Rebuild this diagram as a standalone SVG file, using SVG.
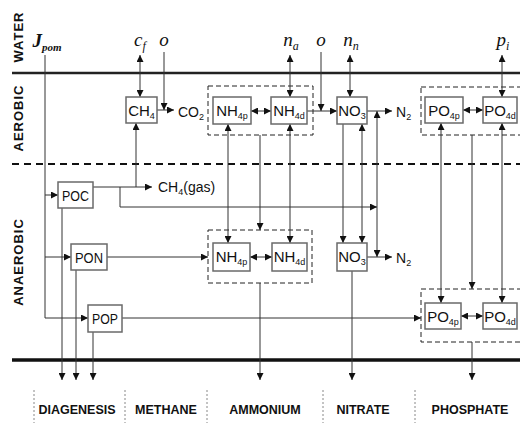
<svg xmlns="http://www.w3.org/2000/svg" width="520" height="423" viewBox="0 0 520 423">
<style>
.box{fill:#fff;stroke:#6a6a6a;stroke-width:1.5}
.dash{fill:none;stroke:#222;stroke-width:1;stroke-dasharray:5 3}
.c{fill:none;stroke:#333;stroke-width:1}
.lbl{font-family:"Liberation Sans Narrow","Liberation Sans",Arial,sans-serif;font-size:15px;fill:#111;text-anchor:middle}
.sub{font-size:9px}
.ft{font-family:"Liberation Sans Narrow","Liberation Sans",Arial,sans-serif;font-size:14px;fill:#111}
.math{font-family:"Liberation Serif","Times New Roman",serif;font-style:italic;font-size:19px;fill:#111;text-anchor:middle}
.side{font-family:"Liberation Sans",Arial,sans-serif;font-weight:bold;font-size:13px;fill:#111;text-anchor:middle;letter-spacing:1px}
.bot{font-family:"Liberation Sans Narrow","Liberation Sans",Arial,sans-serif;font-weight:bold;font-size:12.5px;fill:#111;text-anchor:middle}
.sep{stroke:#888;stroke-width:1;stroke-dasharray:2 2}
</style>
<defs>
<marker id="a" viewBox="0 0 8 8" refX="8" refY="4" markerWidth="7" markerHeight="7" markerUnits="userSpaceOnUse" orient="auto-start-reverse">
<path d="M0,0 L8,4 L0,8 z" fill="#111"/>
</marker>
</defs>

<g id="layers">
<line x1="12" y1="73" x2="520" y2="73" stroke="#222" stroke-width="2.5"/>
<line x1="12" y1="164" x2="520" y2="164" stroke="#111" stroke-width="2" stroke-dasharray="7 5"/>
<line x1="12" y1="360" x2="520" y2="360" stroke="#111" stroke-width="3.5"/>
<line class="sep" x1="34" y1="390" x2="34" y2="423"/>
<line class="sep" x1="125" y1="390" x2="125" y2="423"/>
<line class="sep" x1="207" y1="390" x2="207" y2="423"/>
<line class="sep" x1="323" y1="390" x2="323" y2="423"/>
<line class="sep" x1="415" y1="390" x2="415" y2="423"/>
</g>

<g id="side-labels">
<text class="side" transform="translate(23,37) rotate(-90)">WATER</text>
<text class="side" transform="translate(23,118) rotate(-90)">AEROBIC</text>
<text class="side" transform="translate(23,262) rotate(-90)">ANAEROBIC</text>
</g>

<g id="bottom-labels">
<text class="bot" x="77" y="414">DIAGENESIS</text>
<text class="bot" x="166" y="414">METHANE</text>
<text class="bot" x="265" y="414">AMMONIUM</text>
<text class="bot" x="363" y="414">NITRATE</text>
<text class="bot" x="470" y="414">PHOSPHATE</text>
</g>

<g id="inputs">
<text class="math" x="47" y="47" style="font-weight:bold">J<tspan font-size="11" dy="4">pom</tspan></text>
<text class="math" x="140" y="46">c<tspan font-size="12" dy="4">f</tspan></text>
<text class="math" x="164" y="46">o</text>
<text class="math" x="291" y="46">n<tspan font-size="12" dy="4">a</tspan></text>
<text class="math" x="321" y="46">o</text>
<text class="math" x="351" y="46">n<tspan font-size="12" dy="4">n</tspan></text>
<text class="math" x="503" y="46">p<tspan font-size="12" dy="4">i</tspan></text>
</g>

<g id="groups">
<rect class="dash" x="208" y="86" width="105" height="49"/>
<rect class="dash" x="208" y="230" width="104" height="53"/>
<rect class="dash" x="421" y="87" width="103" height="48"/>
<rect class="dash" x="421" y="289" width="103" height="53"/>
</g>

<g id="connectors">
<path class="c" d="M45,55 V318 H88" marker-end="url(#a)"/>
<path class="c" d="M45,195 H58" marker-end="url(#a)"/>
<path class="c" d="M45,257 H71" marker-end="url(#a)"/>
<path class="c" d="M62,208 V380" marker-end="url(#a)"/>
<path class="c" d="M76,270 V380" marker-end="url(#a)"/>
<path class="c" d="M93,332 V380" marker-end="url(#a)"/>
<path class="c" d="M93,187 H152" marker-end="url(#a)"/>
<path class="c" d="M136,187 V123" marker-end="url(#a)"/>
<path class="c" d="M120,187 V207 H377" marker-end="url(#a)"/>
<path class="c" d="M377,111 V257" marker-start="url(#a)" marker-end="url(#a)"/>
<path class="c" d="M157,110 H174" marker-end="url(#a)"/>
<path class="c" d="M164,52 V110" marker-end="url(#a)"/>
<path class="c" d="M140,55 V97" marker-start="url(#a)" marker-end="url(#a)"/>
<path class="c" d="M251,111 H271" marker-start="url(#a)" marker-end="url(#a)"/>
<path class="c" d="M290,55 V97" marker-start="url(#a)" marker-end="url(#a)"/>
<path class="c" d="M307,111 H337" marker-end="url(#a)"/>
<path class="c" d="M321,52 V111" marker-end="url(#a)"/>
<path class="c" d="M350,55 V97" marker-start="url(#a)" marker-end="url(#a)"/>
<path class="c" d="M367,111 H392" marker-end="url(#a)"/>
<path class="c" d="M463,110 H483" marker-start="url(#a)" marker-end="url(#a)"/>
<path class="c" d="M502,55 V97" marker-start="url(#a)" marker-end="url(#a)"/>
<path class="c" d="M228,124 V243" marker-start="url(#a)" marker-end="url(#a)"/>
<path class="c" d="M260,135 V230" marker-end="url(#a)"/>
<path class="c" d="M290,124 V243" marker-start="url(#a)" marker-end="url(#a)"/>
<path class="c" d="M343,124 V243" marker-end="url(#a)"/>
<path class="c" d="M362,124 V243" marker-start="url(#a)" marker-end="url(#a)"/>
<path class="c" d="M441,123 V303" marker-start="url(#a)" marker-end="url(#a)"/>
<path class="c" d="M472,135 V289" marker-end="url(#a)"/>
<path class="c" d="M502,123 V303" marker-start="url(#a)" marker-end="url(#a)"/>
<path class="c" d="M107,257 H208" marker-end="url(#a)"/>
<path class="c" d="M250,257 H272" marker-start="url(#a)" marker-end="url(#a)"/>
<path class="c" d="M367,257 H392" marker-end="url(#a)"/>
<path class="c" d="M122,318 H421" marker-end="url(#a)"/>
<path class="c" d="M461,316 H483" marker-start="url(#a)" marker-end="url(#a)"/>
<path class="c" d="M260,283 V380" marker-end="url(#a)"/>
<path class="c" d="M352,271 V380" marker-end="url(#a)"/>
<path class="c" d="M472,342 V380" marker-end="url(#a)"/>
</g>

<g id="free-text">
<text class="ft" x="178" y="117">CO<tspan class="sub" dy="3">2</tspan></text>
<text class="ft" x="396" y="117">N<tspan class="sub" dy="3">2</tspan></text>
<text class="ft" x="396" y="263">N<tspan class="sub" dy="3">2</tspan></text>
<text class="ft" x="158" y="192">CH<tspan class="sub" dy="3">4</tspan><tspan dy="-3">(gas)</tspan></text>
</g>

<g id="POC"><rect class="box" x="58" y="182" width="35" height="26"/><text class="lbl" x="75.5" y="200.5" textLength="27" lengthAdjust="spacingAndGlyphs">POC</text></g>
<g id="PON"><rect class="box" x="71" y="244" width="36" height="26"/><text class="lbl" x="89" y="262.5" textLength="28" lengthAdjust="spacingAndGlyphs">PON</text></g>
<g id="POP"><rect class="box" x="88" y="305" width="34" height="27"/><text class="lbl" x="105" y="324" textLength="26" lengthAdjust="spacingAndGlyphs">POP</text></g>
<g id="CH4"><rect class="box" x="126" y="97" width="31" height="26"/><text class="lbl" x="141.5" y="115.5">CH<tspan class="sub" dy="3">4</tspan></text></g>
<g id="NH4p-aer"><rect class="box" x="213" y="97" width="38" height="27"/><text class="lbl" x="232" y="116">NH<tspan class="sub" dy="3">4p</tspan></text></g>
<g id="NH4d-aer"><rect class="box" x="271" y="97" width="36" height="27"/><text class="lbl" x="289" y="116">NH<tspan class="sub" dy="3">4d</tspan></text></g>
<g id="NO3-aer"><rect class="box" x="337" y="97" width="30" height="27"/><text class="lbl" x="352" y="116">NO<tspan class="sub" dy="3">3</tspan></text></g>
<g id="PO4p-aer"><rect class="box" x="425" y="97" width="38" height="26"/><text class="lbl" x="444" y="115.5">PO<tspan class="sub" dy="3">4p</tspan></text></g>
<g id="PO4d-aer"><rect class="box" x="483" y="97" width="34" height="26"/><text class="lbl" x="500" y="115.5">PO<tspan class="sub" dy="3">4d</tspan></text></g>
<g id="NH4p-ana"><rect class="box" x="213" y="243" width="37" height="28"/><text class="lbl" x="231.5" y="262">NH<tspan class="sub" dy="3">4p</tspan></text></g>
<g id="NH4d-ana"><rect class="box" x="272" y="243" width="35" height="28"/><text class="lbl" x="289.5" y="262">NH<tspan class="sub" dy="3">4d</tspan></text></g>
<g id="NO3-ana"><rect class="box" x="337" y="243" width="30" height="28"/><text class="lbl" x="352" y="262">NO<tspan class="sub" dy="3">3</tspan></text></g>
<g id="PO4p-ana"><rect class="box" x="425" y="303" width="36" height="26"/><text class="lbl" x="443" y="321.5">PO<tspan class="sub" dy="3">4p</tspan></text></g>
<g id="PO4d-ana"><rect class="box" x="483" y="303" width="34" height="26"/><text class="lbl" x="500" y="321.5">PO<tspan class="sub" dy="3">4d</tspan></text></g>
</svg>
